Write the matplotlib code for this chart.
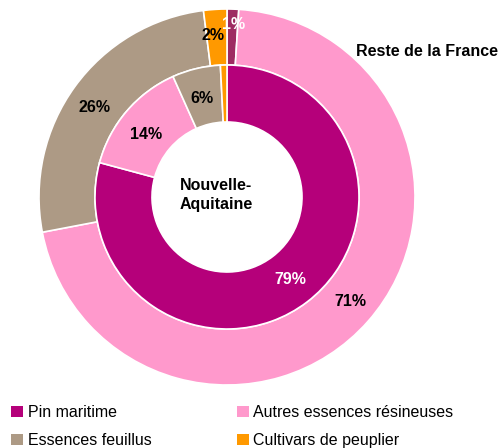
import matplotlib.pyplot as plt
from matplotlib.patches import Patch

plt.rcParams['font.family'] = ['Liberation Sans', 'DejaVu Sans']

categories = ['Pin maritime', 'Autres essences résineuses', 'Essences feuillus', 'Cultivars de peuplier']
reste_france = [1, 71, 26, 2]
nouvelle_aquitaine = [79.2, 14.1, 5.9, 0.8]
labels_outer = ['1%', '71%', '26%', '2%']
labels_inner = ['79%', '14%', '6%', '']

colors = ['#B5007A', '#FF99CC', '#AD9A85', '#FF9900']
colors_outer = ['#9E2B62', '#FF99CC', '#AD9A85', '#FF9900']

W, H = 501, 448
fig = plt.figure(figsize=(W / 100, H / 100), dpi=100)
ax = fig.add_axes([0, 0, 1, 1])

cx, cy = 227, H - 197
r_out, r_mid, r_in = 188, 132, 75

ax.pie(reste_france, colors=colors_outer, radius=r_out, center=(cx, cy),
       startangle=90, counterclock=False, frame=True,
       wedgeprops=dict(width=r_out - r_mid, edgecolor='white', linewidth=1.2))
ax.pie(nouvelle_aquitaine, colors=colors, radius=r_mid, center=(cx, cy),
       startangle=90, counterclock=False, frame=True,
       wedgeprops=dict(width=r_mid - r_in, edgecolor='white', linewidth=1.2))
ax.set_xlim(0, W)
ax.set_ylim(0, H)
ax.set_aspect('equal')
ax.axis('off')

fs = 11.5

# label positions (pixels in the picture)
pos_outer = [(234, 24), (350, 301), (95, 107), (213, 35)]
col_outer = ['white', 'black', 'black', 'black']
for (x, y), t, c in zip(pos_outer, labels_outer, col_outer):
    ax.text(x, H - y, t, ha='center', va='center', fontsize=fs, fontweight='bold', color=c)

pos_inner = [(290, 280), (146, 134), (202, 98)]
col_inner = ['white', 'black', 'black']
for (x, y), t, c in zip(pos_inner, labels_inner, col_inner):
    ax.text(x, H - y, t, ha='center', va='center', fontsize=fs, fontweight='bold', color=c)

ax.text(216, H - 195, 'Nouvelle-\nAquitaine', ha='center', va='center',
        fontsize=fs, fontweight='bold', linespacing=1.4)
ax.text(498, H - 51, 'Reste de la France', ha='right', va='center',
        fontsize=fs, fontweight='bold')

# legend rows: Pin / Autres, Feuillus / Peuplier
order = [0, 2, 1, 3]
handles = [Patch(facecolor=colors[i], edgecolor='none') for i in order]
fig.legend(handles, [categories[i] for i in order], loc='lower left',
           bbox_to_anchor=(-0.006, -0.032), ncol=2, frameon=False, fontsize=fs,
           handlelength=0.75, handleheight=0.75, handletextpad=0.3,
           columnspacing=5.3, labelspacing=0.8, borderpad=0.4)

fig.savefig('out.png', dpi=100)
